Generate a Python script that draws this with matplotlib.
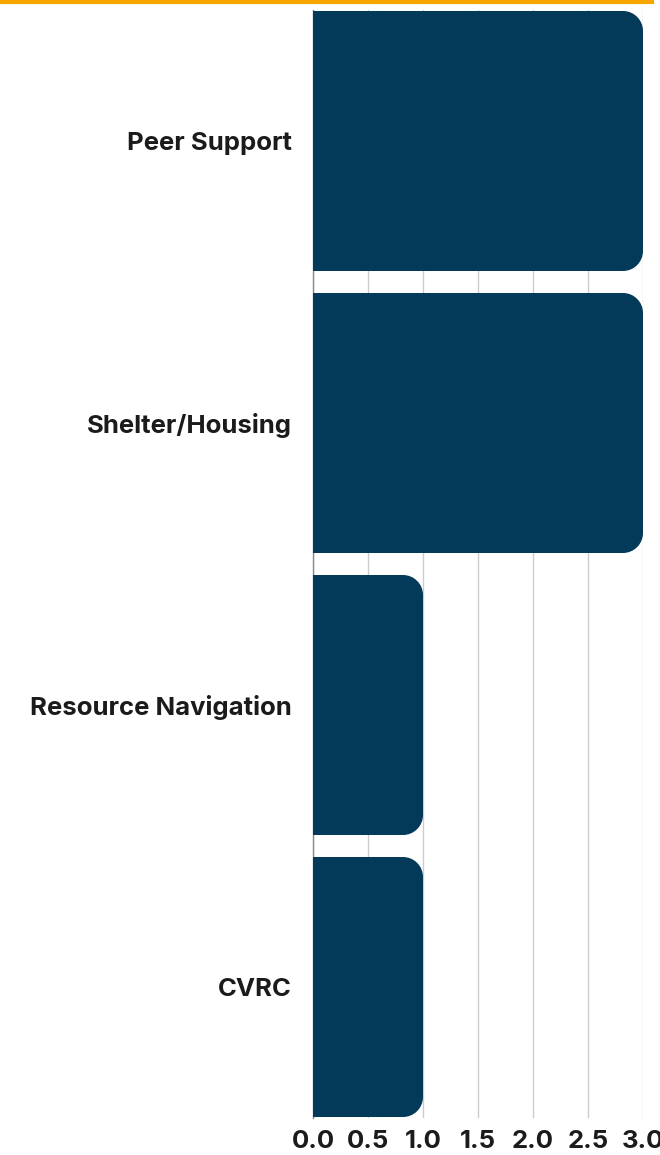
import matplotlib.pyplot as plt
from matplotlib.path import Path
from matplotlib.patches import PathPatch

categories = ["Peer Support", "Shelter/Housing", "Resource Navigation", "CVRC"]
values = [3, 3, 1, 1]
ticks = [0.0, 0.5, 1.0, 1.5, 2.0, 2.5, 3.0]
tick_labels = ["0.0", "0.5", "1.0", "1.5", "2.0", "2.5", "3.0"]

bar_color = "#033a5a"
text_color = "#1b1b1b"
plt.rcParams["font.family"] = ["Inter", "DejaVu Sans"]

fig = plt.figure(figsize=(6.6, 11.55), dpi=100)
W, H = 660, 1155
ax = fig.add_axes([313 / W, 1 - 1118 / H, 330 / W, 1108 / H])

bar_h = 260 / 282
ypos = list(range(len(categories)))
ax.set_xlim(0, 3)
ax.set_ylim(len(categories) - 1 + 0.4645, -0.4645)


def rounded_bar(ax, y, w, h, rpx=20):
    # radius in data units so that corners look circular on screen
    rx = rpx / 110.0
    ry = rpx / 282.0
    rx = min(rx, w / 2)
    k = 0.5523
    y0, y1 = y - h / 2, y + h / 2
    verts = [
        (0, y0),
        (w - rx, y0),
        (w - rx + k * rx, y0), (w, y0 + ry - k * ry), (w, y0 + ry),
        (w, y1 - ry),
        (w, y1 - ry + k * ry), (w - rx + k * rx, y1), (w - rx, y1),
        (0, y1),
        (0, y0),
    ]
    codes = [Path.MOVETO, Path.LINETO,
             Path.CURVE4, Path.CURVE4, Path.CURVE4,
             Path.LINETO,
             Path.CURVE4, Path.CURVE4, Path.CURVE4,
             Path.LINETO, Path.CLOSEPOLY]
    ax.add_patch(PathPatch(Path(verts, codes), facecolor=bar_color,
                           edgecolor="none", zorder=3))


for y, v in zip(ypos, values):
    rounded_bar(ax, y, v, bar_h)

ax.set_yticks(ypos)
ax.set_yticklabels(categories, fontsize=18.5, fontweight="bold", color=text_color)
ax.set_xticks(ticks)
ax.set_xticklabels(tick_labels, fontsize=18.5, fontweight="bold", color=text_color)
ax.tick_params(axis="y", length=0, pad=15)
ax.tick_params(axis="x", length=0, pad=9)
ax.grid(axis="x", color="#cccccc", linewidth=1, zorder=0)
for s in ["top", "right", "bottom"]:
    ax.spines[s].set_visible(False)
ax.spines["left"].set_color("#888888")
ax.spines["left"].set_linewidth(1)

# orange rule across the top
fig.add_artist(plt.Line2D([0, 652 / W], [1 - 1.5 / H, 1 - 1.5 / H],
                          color="#f7a600", linewidth=3))

fig.savefig("out.png", dpi=100)
